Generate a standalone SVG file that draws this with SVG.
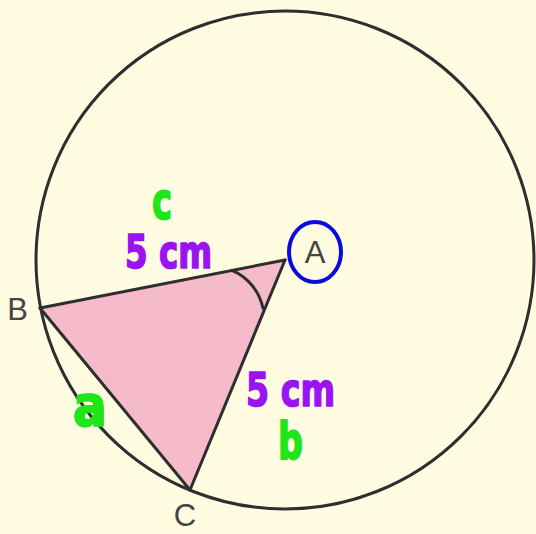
<svg xmlns="http://www.w3.org/2000/svg" width="536" height="534" viewBox="0 0 536 534">
  <style>
    .edge { fill: none; stroke: #2e2e2e; stroke-width: 3; stroke-linejoin: round; stroke-linecap: round; }
    .vlabel { font-family: "Liberation Sans", Arial, sans-serif; font-size: 31px; fill: #444444; }
    .hand { font-family: "DejaVu Sans", "Liberation Sans", sans-serif; font-weight: bold; stroke-width: 1.5; stroke-linejoin: round; }
    .purple { fill: #9A14F2; stroke: #9A14F2; }
    .green { fill: #1EE619; stroke: #1EE619; }
  </style>
  <rect width="536" height="534" fill="#FFFCE1"/>
  <g id="circle">
    <circle cx="285" cy="260" r="249" class="edge" stroke-width="2.5"/>
  </g>
  <g id="triangle">
    <polygon points="285,260 40,308 190,490" fill="#F6BBCB"/>
    <path d="M232,270.4 A53,53 0 0 1 263,308.3" class="edge" stroke-width="2"/>
  </g>
  <g id="connectors">
    <line x1="285" y1="260" x2="40" y2="308" class="edge"/>
    <line x1="40" y1="308" x2="190" y2="490" class="edge"/>
    <line x1="285" y1="260" x2="190" y2="490" class="edge"/>
  </g>
  <g id="node-A">
    <ellipse cx="315" cy="252" rx="26" ry="30" fill="none" stroke="#0A0AE0" stroke-width="4"/>
    <text x="315" y="263" text-anchor="middle" class="vlabel">A</text>
  </g>
  <g id="node-B">
    <text x="17.5" y="320" text-anchor="middle" class="vlabel">B</text>
  </g>
  <g id="node-C">
    <text x="185" y="526" text-anchor="middle" class="vlabel">C</text>
  </g>
  <g id="label-c">
    <text class="hand green" font-size="40" textLength="20" lengthAdjust="spacingAndGlyphs" transform="translate(152,219) scale(1,1.3)">c</text>
    <text class="hand purple" font-size="40" textLength="87" lengthAdjust="spacingAndGlyphs" transform="translate(125,268) scale(1,1.15)">5 cm</text>
  </g>
  <g id="label-b">
    <text class="hand purple" font-size="40" textLength="89" lengthAdjust="spacingAndGlyphs" transform="translate(246,406) scale(1,1.15)">5 cm</text>
    <text class="hand green" font-size="40" textLength="25" lengthAdjust="spacingAndGlyphs" transform="translate(278,459) scale(1,1.3)">b</text>
  </g>
  <g id="label-a">
    <text class="hand green" font-size="44" textLength="34" lengthAdjust="spacingAndGlyphs" transform="translate(73,426) scale(1,1.3)">a</text>
  </g>
</svg>
